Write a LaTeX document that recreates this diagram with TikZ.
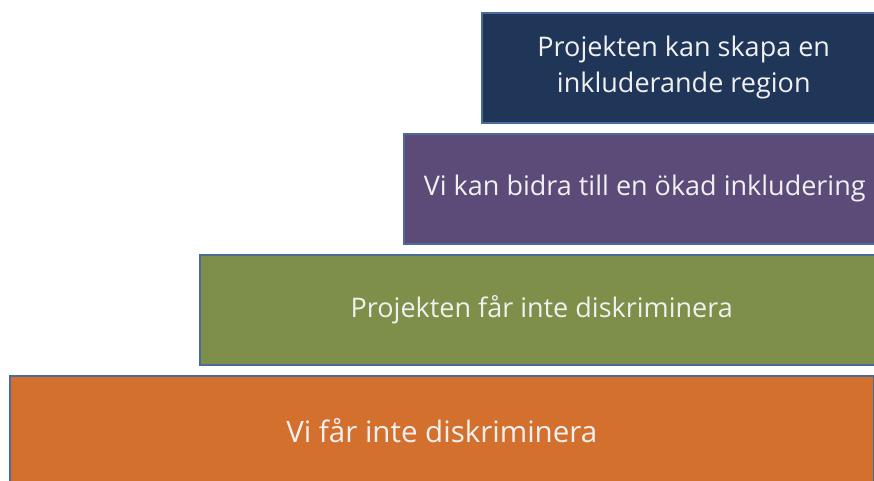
\documentclass[tikz,border=0pt]{standalone}
\usepackage{fontspec}
\setmainfont{Open Sans}
\definecolor{navy}{HTML}{1F3659}
\definecolor{plum}{HTML}{5C4A78}
\definecolor{olive}{HTML}{7D8F48}
\definecolor{rust}{HTML}{D4702E}
\definecolor{edge}{HTML}{4A6A9A}
\tikzset{
  stepbox/.style={draw=edge, line width=1.5pt, anchor=north west, minimum height=110pt,
    inner sep=0pt, text=white!94!black, font=\fontsize{27}{36}\selectfont, align=center}
}

\begin{document}
\begin{tikzpicture}[x=1pt, y=-1pt]
		%%%%% START %%%%%
		\useasboundingbox (0, 0) rectangle (874, 480);
		
		\node[stepbox, fill=navy, minimum width=404pt] (region) at (481, 12)
			{Projekten kan skapa en\\inkluderande region};
		\node[stepbox, fill=plum, minimum width=482pt] (okad) at (403, 133)
			{Vi kan bidra till en ökad inkludering};
		\node[stepbox, fill=olive, minimum width=684pt] (projekt) at (199, 254)
			{Projekten får inte diskriminera};
		\node[stepbox, fill=rust, minimum width=864pt, font=\fontsize{29.5}{36}\selectfont] (vi) at (9, 375)
			{Vi får inte diskriminera};
		
		%%%%% END %%%%%
	\end{tikzpicture}
\end{document}
